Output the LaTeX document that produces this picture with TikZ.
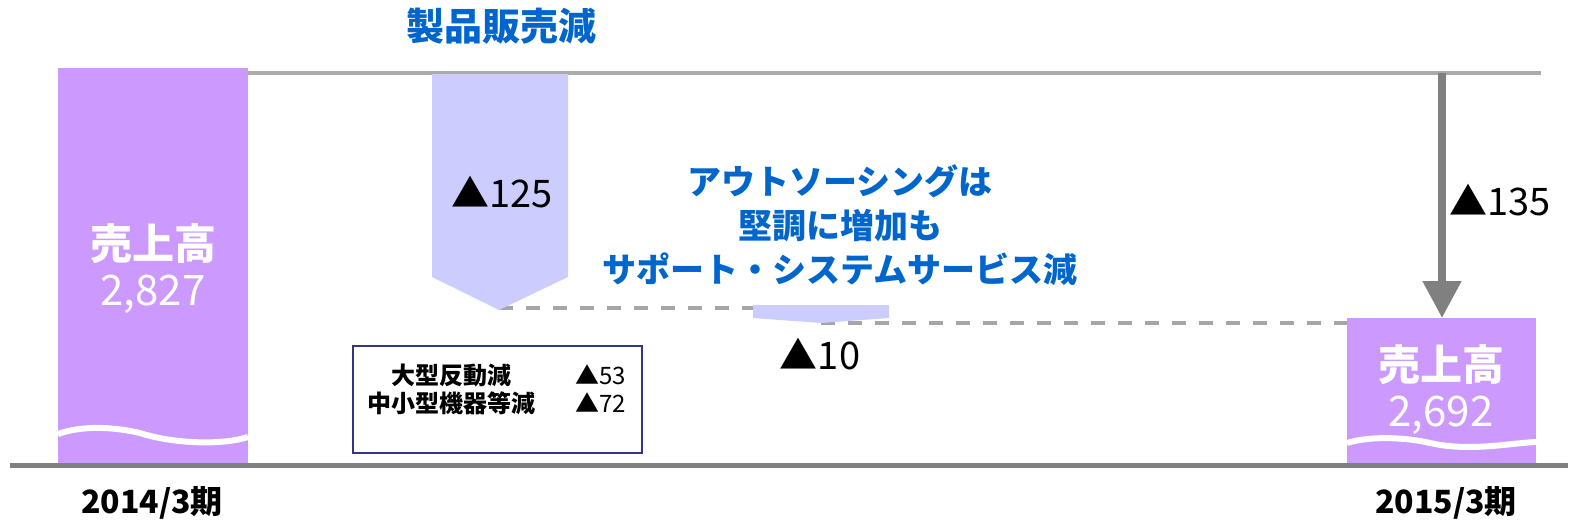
\documentclass[tikz,border=0pt]{standalone}
\usepackage{fontspec}
\setmainfont{Noto Sans CJK JP}
\usetikzlibrary{arrows.meta,positioning}
\definecolor{barpurple}{HTML}{CC99FF}
\definecolor{droplilac}{HTML}{CCCCFF}
\definecolor{noteblue}{HTML}{0066CC}
\definecolor{memonavy}{HTML}{333388}
\tikzset{
  bar/.style       = {fill=barpurple},
  drop/.style      = {fill=droplilac},
  wave/.style      = {draw=white, line width=3pt},
  level/.style     = {draw=black!33, line width=1.6pt},
  axis/.style      = {draw=black!50, line width=2.5pt},
  guide/.style     = {draw=black!35, line width=2pt, dash pattern=on 7pt off 6.5pt},
  fall/.style      = {draw=black!50, line width=4pt,
                      -{Triangle[width=18.5pt,length=18.5pt]}},
  barlabel/.style  = {text=white, font=\fontsize{21}{23}\selectfont, align=center},
  amount/.style    = {font=\fontsize{19}{22}\selectfont},
  remark/.style    = {text=noteblue, font=\bfseries\fontsize{17}{22}\selectfont, align=center},
  memo/.style      = {draw=memonavy, line width=1pt, minimum width=144.5pt, minimum height=53.5pt},
  memotext/.style  = {font=\bfseries\fontsize{12}{14}\selectfont, align=center},
  period/.style    = {font=\bfseries\fontsize{16}{19}\selectfont}
}

\begin{document}
\begin{tikzpicture}[x=0.5pt, y=-0.5pt]
\useasboundingbox (0,0) rectangle (1579,527);

% the two sales bars
\fill[bar] (58,68) rectangle (248,463);
\fill[bar] (1347,318) rectangle (1536,463);
\draw[wave] (58,434) .. controls (80,426) and (110,426) .. (140,433)
                     .. controls (170,443) and (220,446) .. (248,437);
\draw[wave] (1347,443) .. controls (1365,437) and (1400,436) .. (1430,443)
                       .. controls (1470,452) and (1510,443) .. (1536,442);

% reference levels
\coordinate (top0) at (248,73);
\coordinate (top1) at (1541,73);
\coordinate (base0) at (10,465);
\coordinate (base1) at (1568,465);
\draw[level] (top0) -- (top1);
\draw[axis] (base0) -- (base1);

% decrease from product sales
\coordinate (tip125) at (499,308);
\coordinate (tip10) at (821,323);
\coordinate (end125) at (753,308);
\coordinate (end10) at (1347,323);
\draw[guide] (tip125) -- (end125);
\draw[guide] (tip10) -- (end10);
\fill[drop] (432,74) -- (568,74) -- (568,277) -- (499,310) -- (432,277) -- cycle;
\fill[drop] (753,305) -- (889,305) -- (889,318) -- (tip10) -- (753,318) -- cycle;

% total decrease
\coordinate (fall0) at (1442,73);
\coordinate (fall1) at (1442,318);
\draw[fall] (fall0) -- (fall1);

% labels
\node[barlabel] (sales14) at (153,268) {{\bfseries 売上高}\\2,827};
\node[barlabel] (sales15) at (1441,389) {{\bfseries 売上高}\\2,692};
\node[remark, font=\bfseries\fontsize{19}{22}\selectfont] (prod) at (501,26) {製品販売減};
\node[amount] (lbl125) at (502,192) {▲125};
\node[amount] (lbl10) at (820,354) {▲10};
\node[amount] (lbl135) at (1500,200) {▲135};
\node[remark] (service) at (840,225) {アウトソーシングは\\堅調に増加も\\サポート・システムサービス減};

% breakdown of the product decrease
\node[memo] (memo) at (497.5,399.5) {};
\node[memotext] (memo1) at (451,389) {大型反動減\\中小型機器等減};
\node[memotext, font=\fontsize{12}{14}\selectfont, right=13pt of memo1.east, anchor=west, align=left] (memo2) {▲53\\▲72};

% periods
\node[period] (p14) at (152,503) {2014/3期};
\node[period] (p15) at (1446,503) {2015/3期};
\end{tikzpicture}
\end{document}
